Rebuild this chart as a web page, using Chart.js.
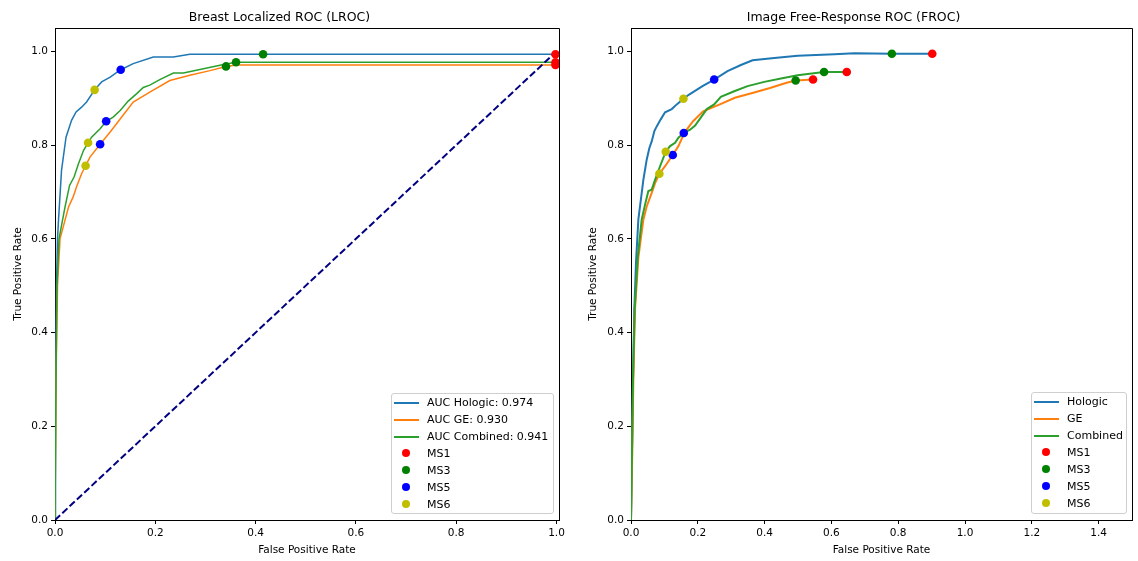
<!DOCTYPE html>
<html>
<head>
<meta charset="utf-8">
<script src="https://cdn.jsdelivr.net/npm/chart.js@4.4.1/dist/chart.umd.min.js"></script>
<style>
  html, body { margin: 0; padding: 0; background: #fff; }
  body { width: 1138px; height: 561px; position: relative; overflow: hidden; font-family: "DejaVu Sans", sans-serif; }
  canvas { position: absolute; top: 0; }
  .legend { position: absolute; box-sizing: border-box; background: rgba(255,255,255,0.8); border: 1px solid #cfcfcf; border-radius: 3px; padding: 0 4px 0 2px; font-size: 11px; color: #000; }
  .legend .row { height: 17px; display: flex; align-items: center; white-space: nowrap; }
  .legend .key { width: 25px; height: 17px; margin-right: 8px; position: relative; flex: none; }
  .legend .ln { position: absolute; left: 0; right: 0; top: 8px; height: 2px; }
  .legend .dot { position: absolute; left: 8px; top: 4px; width: 8px; height: 8px; border-radius: 50%; }
</style>
</head>
<body>
<canvas id="chart-lroc" width="570" height="561" style="left:0"></canvas>
<canvas id="chart-froc" width="563" height="561" style="left:575px"></canvas>
<div class="legend" id="legend-lroc" style="left:391px;top:393px;width:163px;height:121px"></div>
<div class="legend" id="legend-froc" style="left:1031px;top:392px;width:96px;height:122px"></div>
<script>
(function () {
  "use strict";

  var BLUE = "#1f77b4", ORANGE = "#ff7f0e", GREEN = "#2ca02c", NAVY = "#000080";
  var MS_COLORS = ["#ff0000", "#008000", "#0000ff", "#bfbf00"];
  var MS_LABELS = ["MS1", "MS3", "MS5", "MS6"];

  var X_TICKS_LROC = [0, 0.2, 0.4, 0.6, 0.8, 1.0];
  var X_TICKS_FROC = [0, 0.2, 0.4, 0.6, 0.8, 1.0, 1.2, 1.4];
  var Y_TICKS = [0, 0.2, 0.4, 0.6, 0.8, 1.0];

  // LROC curves [fpr, tpr]
  var LROC_LABELS = ["AUC Hologic: 0.974", "AUC GE: 0.930", "AUC Combined: 0.941"];
  var LROC_HOLOGIC = [[0,0],[0.001,0.25],[0.003,0.5],[0.005,0.6],[0.007,0.64],[0.013,0.746],[0.022,0.817],[0.033,0.853],[0.042,0.871],[0.053,0.881],[0.063,0.892],[0.079,0.918],[0.093,0.935],[0.110,0.945],[0.131,0.961],[0.156,0.974],[0.196,0.988],[0.236,0.988],[0.269,0.994],[1.0,0.994]];
  var LROC_GE = [[0,0],[0.002,0.3],[0.005,0.5],[0.010,0.6],[0.020,0.64],[0.027,0.668],[0.036,0.689],[0.043,0.711],[0.053,0.739],[0.061,0.756],[0.070,0.775],[0.090,0.802],[0.110,0.828],[0.133,0.860],[0.156,0.892],[0.189,0.913],[0.229,0.938],[0.269,0.949],[0.309,0.959],[0.341,0.968],[0.362,0.971],[1.0,0.971]];
  var LROC_COMBINED = [[0,0],[0.002,0.3],[0.004,0.5],[0.008,0.6],[0.015,0.64],[0.020,0.668],[0.029,0.714],[0.038,0.732],[0.047,0.761],[0.057,0.789],[0.066,0.805],[0.073,0.817],[0.090,0.835],[0.102,0.851],[0.116,0.860],[0.130,0.874],[0.146,0.894],[0.163,0.910],[0.176,0.923],[0.189,0.928],[0.209,0.940],[0.236,0.954],[0.256,0.954],[0.296,0.963],[0.336,0.972],[0.361,0.977],[1.0,0.977]];
  var LROC_CHANCE = [[0,0],[1,1]];
  // operating points (Hologic, GE, Combined)
  var LROC_MS1 = [[0.998,0.994],[0.998,0.971],[0.998,0.977]];
  var LROC_MS3 = [[0.415,0.994],[0.341,0.968],[0.361,0.977]];
  var LROC_MS5 = [[0.131,0.961],[0.090,0.802],[0.102,0.851]];
  var LROC_MS6 = [[0.079,0.918],[0.061,0.756],[0.066,0.805]];

  // FROC curves
  var FROC_LABELS = ["Hologic", "GE", "Combined"];
  var FROC_HOLOGIC = [[0,0],[0.003,0.15],[0.006,0.3],[0.010,0.45],[0.015,0.55],[0.022,0.641],[0.037,0.726],[0.047,0.769],[0.055,0.794],[0.062,0.808],[0.070,0.830],[0.077,0.840],[0.089,0.855],[0.102,0.870],[0.122,0.877],[0.137,0.887],[0.157,0.899],[0.174,0.908],[0.194,0.917],[0.214,0.926],[0.249,0.940],[0.289,0.958],[0.329,0.971],[0.364,0.981],[0.429,0.986],[0.499,0.991],[0.609,0.994],[0.669,0.996],[0.781,0.995],[0.902,0.995]];
  var FROC_GE = [[0,0],[0.004,0.15],[0.007,0.3],[0.012,0.45],[0.022,0.56],[0.037,0.641],[0.047,0.669],[0.062,0.698],[0.072,0.719],[0.085,0.739],[0.102,0.755],[0.125,0.779],[0.142,0.798],[0.161,0.828],[0.186,0.851],[0.216,0.872],[0.266,0.887],[0.311,0.901],[0.366,0.912],[0.416,0.922],[0.466,0.933],[0.493,0.938],[0.545,0.940]];
  var FROC_COMBINED = [[0,0],[0.003,0.15],[0.006,0.3],[0.011,0.45],[0.020,0.56],[0.032,0.641],[0.042,0.673],[0.052,0.702],[0.062,0.705],[0.072,0.726],[0.087,0.755],[0.104,0.786],[0.117,0.798],[0.132,0.805],[0.142,0.816],[0.158,0.826],[0.177,0.833],[0.192,0.842],[0.212,0.862],[0.227,0.877],[0.249,0.887],[0.269,0.903],[0.309,0.915],[0.349,0.926],[0.399,0.935],[0.449,0.942],[0.499,0.949],[0.529,0.952],[0.578,0.956],[0.646,0.956]];
  var FROC_MS1 = [[0.902,0.995],[0.545,0.940],[0.646,0.956]];
  var FROC_MS3 = [[0.781,0.995],[0.493,0.938],[0.578,0.956]];
  var FROC_MS5 = [[0.249,0.940],[0.125,0.779],[0.158,0.826]];
  var FROC_MS6 = [[0.157,0.899],[0.085,0.739],[0.104,0.786]];

  Chart.defaults.font.family = "'DejaVu Sans', sans-serif";
  Chart.defaults.color = "#000";

  function pts(a) { return a.map(function (p) { return { x: p[0], y: p[1] }; }); }

  function lineSet(label, data, color, w, order) {
    return { label: label, data: pts(data), showLine: true, borderColor: color, backgroundColor: color,
      borderWidth: w, pointRadius: 0, pointHoverRadius: 0, tension: 0, fill: false, order: order };
  }
  function markSet(label, data, color, order) {
    return { label: label, data: pts(data), showLine: false, backgroundColor: color, borderColor: color,
      borderWidth: 0, pointRadius: 4.3, pointHoverRadius: 4.3, order: order };
  }

  // top + right spines
  var frame = {
    id: "frame",
    afterDraw: function (chart) {
      var a = chart.chartArea, ctx = chart.ctx;
      ctx.save();
      ctx.strokeStyle = "#000"; ctx.lineWidth = 1;
      ctx.beginPath();
      ctx.moveTo(a.left, Math.round(a.top) + 0.5);
      ctx.lineTo(Math.round(a.right) + 0.5, Math.round(a.top) + 0.5);
      ctx.lineTo(Math.round(a.right) + 0.5, a.bottom);
      ctx.stroke();
      ctx.restore();
    }
  };

  function opts(title, xmax, xticks, yWidth, padRight) {
    var tickFont = { size: 10.5 };
    var grid = { display: true, drawOnChartArea: false, drawTicks: true, tickLength: 4, color: "#000" };
    return {
      animation: false, responsive: false,
      layout: { padding: { left: 0, right: padRight, top: 0, bottom: 0 } },
      plugins: {
        legend: { display: false }, tooltip: { enabled: false },
        title: { display: true, text: title, color: "#000", font: { size: 12.5, weight: "normal" }, padding: { top: 10, bottom: 3 } }
      },
      scales: {
        x: {
          type: "linear", min: 0, max: xmax,
          afterBuildTicks: function (s) { s.ticks = xticks.map(function (v) { return { value: v }; }); },
          afterFit: function (s) { s.height = 41; },
          ticks: { font: tickFont, padding: 3, maxRotation: 0, autoSkip: false, callback: function (v) { return v.toFixed(1); } },
          grid: grid, border: { display: true, color: "#000" },
          title: { display: true, text: "False Positive Rate", font: { size: 10.5 }, padding: { top: 0, bottom: 4 } }
        },
        y: {
          type: "linear", min: 0, max: 1.05,
          afterBuildTicks: function (s) { s.ticks = Y_TICKS.map(function (v) { return { value: v }; }); },
          afterFit: function (s) { s.width = yWidth; },
          ticks: { font: tickFont, padding: 3, autoSkip: false, callback: function (v) { return v.toFixed(1); } },
          grid: grid, border: { display: true, color: "#000" },
          title: { display: true, text: "True Positive Rate", font: { size: 10.5 }, padding: { top: 12, bottom: 0 } }
        }
      }
    };
  }

  function buildDatasets(labels, curves, marks, lw) {
    var sets = [];
    var colors = [BLUE, ORANGE, GREEN];
    curves.forEach(function (c, i) { sets.push(lineSet(labels[i], c, colors[i], lw, 10 - i)); });
    marks.forEach(function (m, i) { sets.push(markSet(MS_LABELS[i], m, MS_COLORS[i], 5 - i)); });
    return sets;
  }

  var lrocSets = buildDatasets(LROC_LABELS, [LROC_HOLOGIC, LROC_GE, LROC_COMBINED], [LROC_MS1, LROC_MS3, LROC_MS5, LROC_MS6], 1.5);
  var chance = lineSet("", LROC_CHANCE, NAVY, 2, 6);
  chance.borderDash = [7, 3];
  chance.noLegend = true;
  lrocSets.push(chance);

  var frocSets = buildDatasets(FROC_LABELS, [FROC_HOLOGIC, FROC_GE, FROC_COMBINED], [FROC_MS1, FROC_MS3, FROC_MS5, FROC_MS6], 2);

  var c1 = new Chart(document.getElementById("chart-lroc"), {
    type: "scatter", data: { datasets: lrocSets },
    options: opts("Breast Localized ROC (LROC)", 1.005, X_TICKS_LROC, 55, 11), plugins: [frame]
  });
  var c2 = new Chart(document.getElementById("chart-froc"), {
    type: "scatter", data: { datasets: frocSets },
    options: opts("Image Free-Response ROC (FROC)", 1.5, X_TICKS_FROC, 56, 6), plugins: [frame]
  });

  function legend(id, chart) {
    document.getElementById(id).innerHTML = chart.data.datasets.filter(function (d) { return !d.noLegend; }).map(function (d) {
      var key = d.showLine
        ? '<div class="ln" style="background:' + d.borderColor + '"></div>'
        : '<div class="dot" style="background:' + d.backgroundColor + '"></div>';
      return '<div class="row"><div class="key">' + key + '</div><span>' + d.label + '</span></div>';
    }).join("");
  }
  legend("legend-lroc", c1);
  legend("legend-froc", c2);
})();
</script>
</body>
</html>
